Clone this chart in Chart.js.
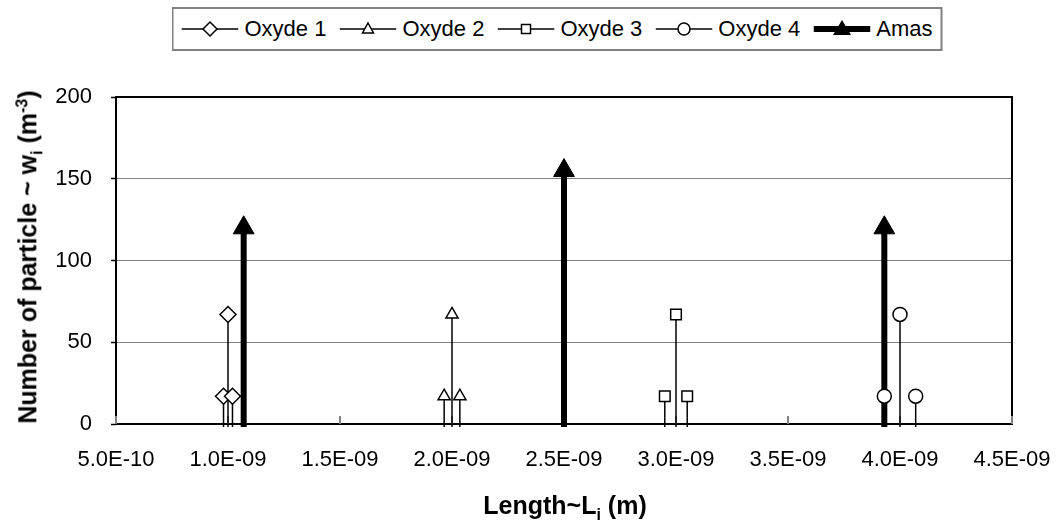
<!DOCTYPE html>
<html>
<head>
<title>Number of particle vs length</title>
<script src="https://cdn.jsdelivr.net/npm/chart.js@4.4.1/dist/chart.umd.min.js"></script>
<style>
  body { margin: 0; background: #fff; }
  #wrap { position: relative; width: 1061px; height: 524px; font-family: "Liberation Sans", Arial, sans-serif; color: #000; }
  #chart { position: absolute; left: 0; top: 0; }
  #legend { position: absolute; left: 557px; top: 7px; transform: translateX(-50%); height: 40px;
            border: 2px solid #808080; background: #fff; display: flex; align-items: center;
            padding: 0 8px; font-size: 22px; white-space: nowrap; }
  #legend .item { display: flex; align-items: center; margin-right: 13px; }
  #legend .item:last-child { margin-right: 0; }
  #legend svg { margin-right: 6px; }
  .axis-title { position: absolute; font-weight: bold; font-size: 25px; white-space: nowrap; }
  .axis-title sub, .axis-title sup { font-size: 16px; }
  #ytitle { left: 30px; top: 257px; transform: translate(-50%, -50%) rotate(-90deg); }
  #xtitle { left: 565px; top: 507px; transform: translate(-50%, -50%); }
</style>
</head>
<body>
<div id="wrap">
  <canvas id="chart" width="1061" height="524"></canvas>
  <div id="legend"></div>
  <div class="axis-title" id="ytitle">Number of particle ~ w<sub>i</sub> (m<sup>-3</sup>)</div>
  <div class="axis-title" id="xtitle">Length~L<sub>i</sub> (m)</div>
</div>

<script>
  // data
  var seriesNames = ["Oxyde 1", "Oxyde 2", "Oxyde 3", "Oxyde 4", "Amas"];

  var oxyde1Length = [0.98e-9, 1.0e-9, 1.02e-9];
  var oxyde1Count = [17, 67, 17];
  var oxyde2Length = [1.965e-9, 2.0e-9, 2.035e-9];
  var oxyde2Count = [17, 67, 17];
  var oxyde3Length = [2.95e-9, 3.0e-9, 3.05e-9];
  var oxyde3Count = [17, 67, 17];
  var oxyde4Length = [3.93e-9, 4.0e-9, 4.07e-9];
  var oxyde4Count = [17, 67, 17];
  var amasLength = [1.07e-9, 2.5e-9, 3.93e-9];
  var amasCount = [120, 155, 120];

  var xTickValues = [5e-10, 1e-9, 1.5e-9, 2e-9, 2.5e-9, 3e-9, 3.5e-9, 4e-9, 4.5e-9];
  var xTickLabels = ["5.0E-10", "1.0E-09", "1.5E-09", "2.0E-09", "2.5E-09", "3.0E-09", "3.5E-09", "4.0E-09", "4.5E-09"];

  function toPoints(xs, ys) {
    return xs.map(function (x, i) { return { x: x, y: ys[i] }; });
  }

  var FONT = "'Liberation Sans', Arial, sans-serif";

  // vertical drop lines, frame and inner x ticks
  var stemPlugin = {
    id: "stems",
    beforeDatasetsDraw: function (chart) {
      var ctx = chart.ctx, a = chart.chartArea;
      var xs = chart.scales.x, ys = chart.scales.y;
      ctx.save();
      ctx.strokeStyle = "#000";
      ctx.lineWidth = 2;
      ctx.strokeRect(a.left, a.top, a.right - a.left, a.bottom - a.top);

      ctx.strokeStyle = "#808080";
      xs.ticks.forEach(function (t) {
        var px = xs.getPixelForValue(t.value);
        ctx.beginPath();
        ctx.moveTo(px, a.bottom);
        ctx.lineTo(px, a.bottom - 8);
        ctx.stroke();
      });

      var y0 = ys.getPixelForValue(0);
      ctx.strokeStyle = "#000";
      chart.data.datasets.forEach(function (ds, i) {
        var meta = chart.getDatasetMeta(i);
        ctx.lineWidth = ds.stemWidth;
        meta.data.forEach(function (pt) {
          ctx.beginPath();
          ctx.moveTo(pt.x, pt.y);
          ctx.lineTo(pt.x, y0 + 3);
          ctx.stroke();
        });
      });
      ctx.restore();
    }
  };

  function hollow(label, data, style, radius) {
    return {
      label: label,
      data: data,
      showLine: false,
      pointStyle: style,
      pointRadius: radius,
      pointHoverRadius: radius,
      pointBackgroundColor: "#fff",
      pointBorderColor: "#000",
      pointBorderWidth: 1.5,
      stemWidth: 1.5
    };
  }

  var datasets = [
    hollow(seriesNames[0], toPoints(oxyde1Length, oxyde1Count), "rectRot", 8),
    hollow(seriesNames[1], toPoints(oxyde2Length, oxyde2Count), "triangle", 7),
    hollow(seriesNames[2], toPoints(oxyde3Length, oxyde3Count), "rect", 7.5),
    hollow(seriesNames[3], toPoints(oxyde4Length, oxyde4Count), "circle", 7),
    {
      label: seriesNames[4],
      data: toPoints(amasLength, amasCount),
      showLine: false,
      pointStyle: "triangle",
      pointRadius: 12,
      pointHoverRadius: 12,
      pointBackgroundColor: "#000",
      pointBorderColor: "#000",
      pointBorderWidth: 1,
      stemWidth: 6
    }
  ];

  new Chart(document.getElementById("chart").getContext("2d"), {
    type: "scatter",
    data: { datasets: datasets },
    plugins: [stemPlugin],
    options: {
      responsive: false,
      animation: false,
      layout: { padding: { top: 97, right: 49, bottom: 0, left: 0 } },
      plugins: { legend: { display: false }, tooltip: { enabled: false } },
      scales: {
        x: {
          type: "linear",
          min: 5e-10,
          max: 4.5e-9,
          afterBuildTicks: function (s) {
            s.ticks = xTickValues.map(function (v) { return { value: v }; });
          },
          afterFit: function (s) {
            s.height = 100;
            s.paddingLeft = 0;
            s.paddingRight = 0;
          },
          ticks: {
            autoSkip: false,
            maxRotation: 0,
            padding: 23,
            color: "#000",
            font: { family: FONT, size: 22 },
            callback: function (v, i) { return xTickLabels[i]; }
          },
          grid: { display: false, drawTicks: false },
          border: { display: false }
        },
        y: {
          min: 0,
          max: 200,
          afterFit: function (s) {
            s.width = 116;
            s.paddingTop = 0;
            s.paddingBottom = 0;
          },
          ticks: {
            stepSize: 50,
            padding: 19,
            color: "#000",
            font: { family: FONT, size: 22 }
          },
          grid: {
            color: function (c) {
              var v = c.tick ? c.tick.value : null;
              return (v === 0 || v === 200) ? "rgba(0,0,0,0)" : "#808080";
            },
            lineWidth: 1,
            tickColor: "#000",
            tickLength: 5,
            tickWidth: 1.5
          },
          border: { display: false }
        }
      }
    }
  });

  // legend: line through marker, like the original
  function legendIcon(i) {
    var cx = 28.5, cy = 11, m;
    if (i === 0) m = '<polygon points="' + cx + ',' + (cy - 7) + ' ' + (cx + 7) + ',' + cy + ' ' + cx + ',' + (cy + 7) + ' ' + (cx - 7) + ',' + cy + '" fill="#fff" stroke="#000" stroke-width="1.5"/>';
    if (i === 1) m = '<polygon points="' + cx + ',' + (cy - 6) + ' ' + (cx + 5.5) + ',' + (cy + 4) + ' ' + (cx - 5.5) + ',' + (cy + 4) + '" fill="#fff" stroke="#000" stroke-width="1.5"/>';
    if (i === 2) m = '<rect x="' + (cx - 4.5) + '" y="' + (cy - 4.5) + '" width="9" height="9" fill="#fff" stroke="#000" stroke-width="1.5"/>';
    if (i === 3) m = '<circle cx="' + cx + '" cy="' + cy + '" r="6" fill="#fff" stroke="#000" stroke-width="1.5"/>';
    if (i === 4) m = '<polygon points="' + cx + ',' + (cy - 9) + ' ' + (cx + 9) + ',' + (cy + 6) + ' ' + (cx - 9) + ',' + (cy + 6) + '" fill="#000"/>';
    var lw = i === 4 ? 6 : 1.5;
    return '<svg width="57" height="22"><line x1="0" y1="' + cy + '" x2="57" y2="' + cy + '" stroke="#000" stroke-width="' + lw + '"/>' + m + '</svg>';
  }

  var legend = document.getElementById("legend");
  seriesNames.forEach(function (name, i) {
    var item = document.createElement("div");
    item.className = "item";
    item.innerHTML = legendIcon(i) + "<span>" + name + "</span>";
    legend.appendChild(item);
  });
</script>
</body>
</html>
